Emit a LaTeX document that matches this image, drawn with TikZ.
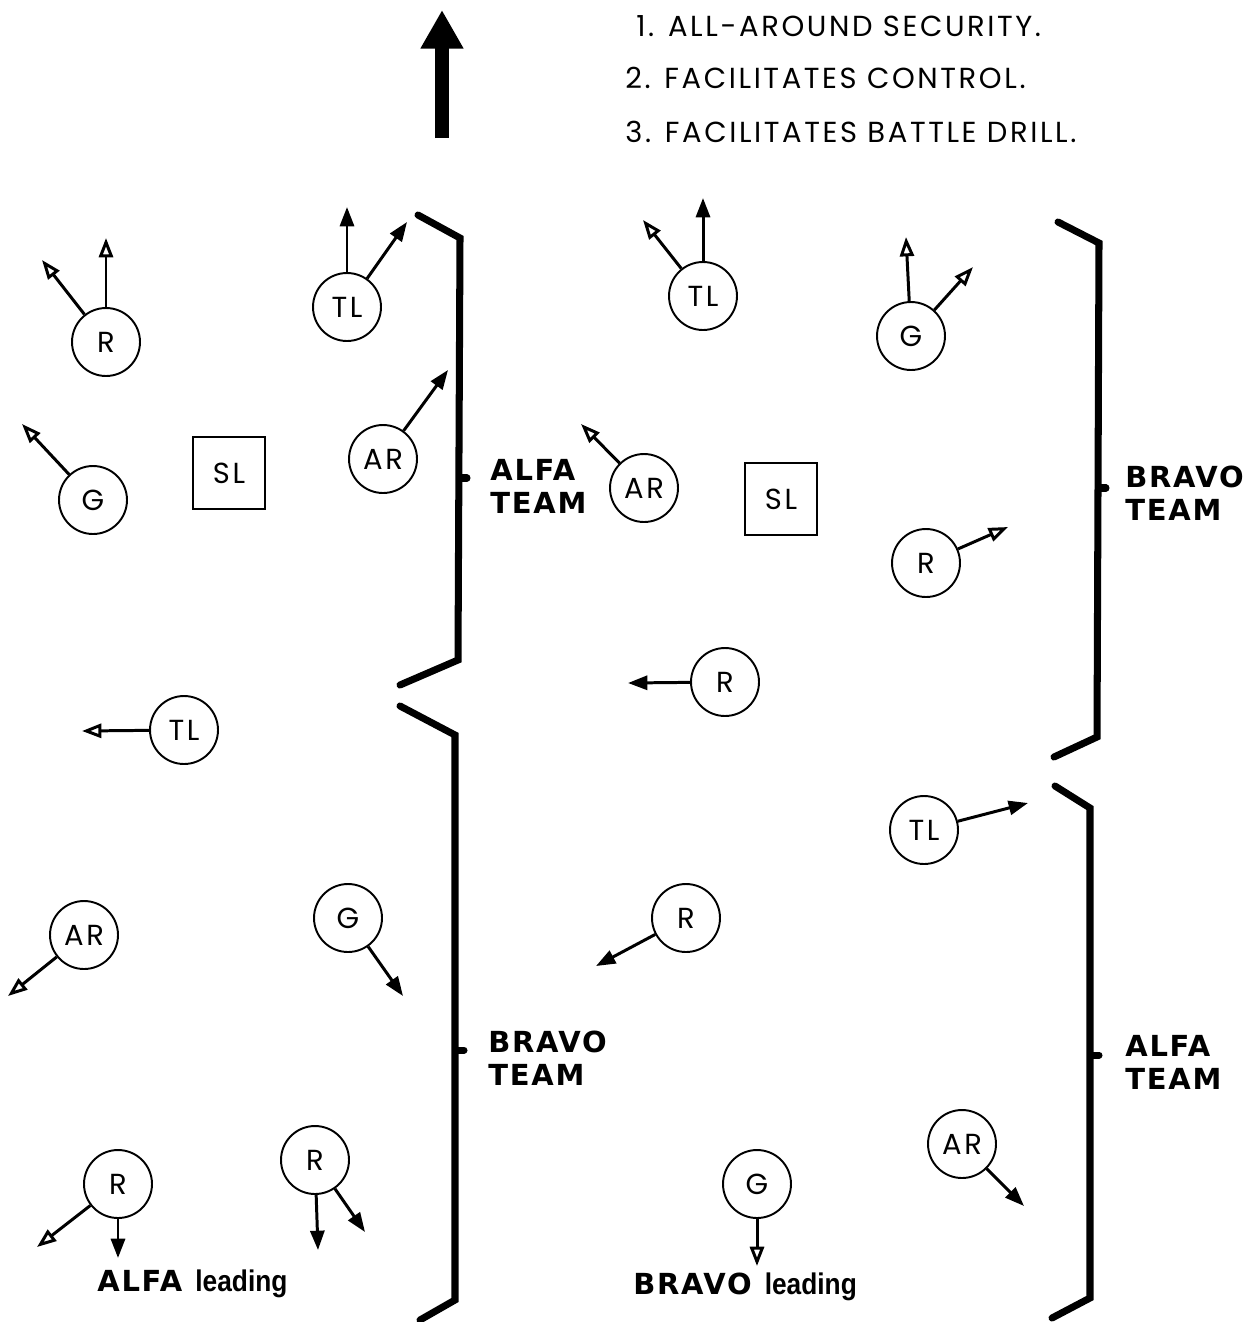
\documentclass[tikz,border=0pt]{standalone}
\usepackage{fontspec}
\setmainfont{Poppins}
\newfontfamily\teamfont[LetterSpace=6]{DejaVu Sans}
\newfontfamily\leadfont[FakeStretch=0.88]{Liberation Sans}
\newfontfamily\listfont[LetterSpace=9]{Poppins}
\usetikzlibrary{arrows.meta}

\begin{document}
\begin{tikzpicture}[x=0.02cm, y=-0.02cm, >={Triangle[length=11pt,width=8pt]}]
        % Styles
        \tikzstyle{man}=[circle, draw, line width=1.1pt, minimum size=13.6mm, inner sep=0pt, font=\listfont\fontsize{16.5}{16.5}\selectfont]
        \tikzstyle{leader}=[rectangle, draw, line width=1.1pt, minimum size=14.4mm, inner sep=0pt, font=\listfont\fontsize{16.5}{16.5}\selectfont]
        \tikzstyle{move}=[->, line width=1.7pt]
        \tikzstyle{moveo}=[-{Triangle[open,length=11pt,width=8pt]}, line width=1.7pt]
        \tikzstyle{brace}=[line width=4pt, line cap=round]
        \tikzstyle{team}=[anchor=west, align=left, inner sep=0pt, font=\teamfont\bfseries\fontsize{16.5}{18.7}\selectfont]
        \tikzstyle{item}=[anchor=west, inner sep=0pt, font=\listfont\fontsize{16.5}{16.5}\selectfont]

        \useasboundingbox (0,0) rectangle (1250,1322);

        % Direction of movement and notes
        \coordinate (tail) at (442,138);
        \coordinate (head) at (442,10);
        \draw[line width=8pt, -{Triangle[length=22pt,width=23pt]}] (tail) -- (head);
        \node[item] (n1) at (636,26) {1. ALL-AROUND SECURITY.};
        \node[item] (n2) at (625,78) {2. FACILITATES CONTROL.};
        \node[item] (n3) at (625,132) {3. FACILITATES BATTLE DRILL.};

        % Nodes, ALFA leading
        \node[man]    (a1r)  at (106,342) {R};
        \node[man]    (a1g)  at (93,500)  {G};
        \node[leader] (sl1)  at (229,473) {SL};
        \node[man]    (a1tl) at (347,307) {TL};
        \node[man]    (a1ar) at (383,459) {AR};
        \node[man]    (b1tl) at (184,730) {TL};
        \node[man]    (b1ar) at (84,935)  {AR};
        \node[man]    (b1g)  at (348,918) {G};
        \node[man]    (b1r)  at (118,1184) {R};
        \node[man]    (b1rr) at (315,1160) {R};

        % Nodes, BRAVO leading
        \node[man]    (b2tl) at (703,296) {TL};
        \node[man]    (b2g)  at (911,336) {G};
        \node[man]    (b2ar) at (644,488) {AR};
        \node[leader] (sl2)  at (781,499) {SL};
        \node[man]    (b2r)  at (926,563) {R};
        \node[man]    (b2rr) at (725,682) {R};
        \node[man]    (a2tl) at (924,830) {TL};
        \node[man]    (a2r)  at (686,918) {R};
        \node[man]    (a2ar) at (962,1144) {AR};
        \node[man]    (a2g)  at (757,1184) {G};

        % Sectors of fire
        \coordinate (a1r-n)   at (106,238);
        \coordinate (a1r-nw)  at (42,260);
        \coordinate (a1g-nw)  at (22,424);
        \coordinate (a1tl-n)  at (347,207);
        \coordinate (a1tl-ne) at (407,222);
        \coordinate (a1ar-ne) at (448,370);
        \coordinate (b1tl-w)  at (82,731);
        \coordinate (b1ar-sw) at (8,996);
        \coordinate (b1g-se)  at (403,996);
        \coordinate (b1r-s)   at (118,1258);
        \coordinate (b1r-sw)  at (37,1247);
        \coordinate (b1rr-s)  at (318,1250);
        \coordinate (b1rr-se) at (365,1232);
        \coordinate (b2tl-n)  at (703,198);
        \coordinate (b2tl-nw) at (643,220);
        \coordinate (b2g-n)   at (906,237);
        \coordinate (b2g-ne)  at (973,267);
        \coordinate (b2ar-nw) at (581,424);
        \coordinate (b2r-ne)  at (1008,527);
        \coordinate (b2rr-w)  at (628,683);
        \coordinate (a2tl-e)  at (1028,803);
        \coordinate (a2r-sw)  at (596,966);
        \coordinate (a2ar-se) at (1024,1206);
        \coordinate (a2g-s)   at (757,1266);

        \draw[moveo] (a1r) -- (a1r-n);
        \draw[moveo] (a1r) -- (a1r-nw);
        \draw[moveo] (a1g) -- (a1g-nw);
        \draw[move]  (a1tl) -- (a1tl-n);
        \draw[move]  (a1tl) -- (a1tl-ne);
        \draw[move]  (a1ar) -- (a1ar-ne);
        \draw[moveo] (b1tl) -- (b1tl-w);
        \draw[moveo] (b1ar) -- (b1ar-sw);
        \draw[move]  (b1g) -- (b1g-se);
        \draw[move]  (b1r) -- (b1r-s);
        \draw[moveo] (b1r) -- (b1r-sw);
        \draw[move]  (b1rr) -- (b1rr-s);
        \draw[move]  (b1rr) -- (b1rr-se);
        \draw[move]  (b2tl) -- (b2tl-n);
        \draw[moveo] (b2tl) -- (b2tl-nw);
        \draw[moveo] (b2g) -- (b2g-n);
        \draw[moveo] (b2g) -- (b2g-ne);
        \draw[moveo] (b2ar) -- (b2ar-nw);
        \draw[moveo] (b2r) -- (b2r-ne);
        \draw[move]  (b2rr) -- (b2rr-w);
        \draw[move]  (a2tl) -- (a2tl-e);
        \draw[move]  (a2r) -- (a2r-sw);
        \draw[move]  (a2ar) -- (a2ar-se);
        \draw[moveo] (a2g) -- (a2g-s);

        % Team brackets
        \draw[brace] (418,215) -- (460,238) -- (458,660) -- (400,685);
        \draw[brace] (460,478) -- (467,478);
        \draw[brace] (400,706) -- (455,735) -- (455,1300) -- (420,1320);
        \draw[brace] (456,1050) -- (464,1050);
        \draw[brace] (1058,222) -- (1099,243) -- (1097,737) -- (1054,757);
        \draw[brace] (1099,488) -- (1106,488);
        \draw[brace] (1055,786) -- (1090,808) -- (1090,1298) -- (1052,1318);
        \draw[brace] (1091,1055) -- (1099,1055);

        \node[team] (t1) at (490,486)  {ALFA\\TEAM};
        \node[team] (t2) at (488,1058) {BRAVO\\TEAM};
        \node[team] (t3) at (1125,493) {BRAVO\\TEAM};
        \node[team] (t4) at (1125,1062) {ALFA\\TEAM};

        \node[anchor=west, inner sep=0pt] (lead1) at (97,1284) {\teamfont\bfseries\fontsize{16.5}{16}\selectfont ALFA\hspace{0.45em}\leadfont\bfseries\fontsize{17}{16}\selectfont leading};
        \node[anchor=west, inner sep=0pt] (lead2) at (633,1287) {\teamfont\bfseries\fontsize{16.5}{16}\selectfont BRAVO\hspace{0.45em}\leadfont\bfseries\fontsize{17}{16}\selectfont leading};
    \end{tikzpicture}
\end{document}
